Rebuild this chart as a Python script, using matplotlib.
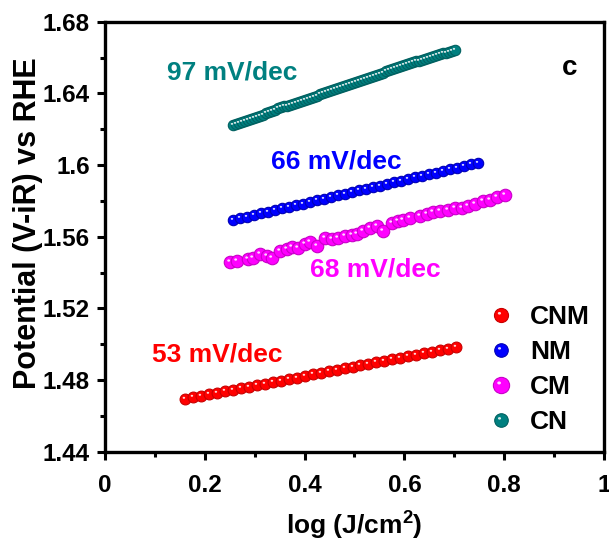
import numpy as np
import matplotlib
matplotlib.use("Agg")
import matplotlib.pyplot as plt
from matplotlib.path import Path
from matplotlib.markers import MarkerStyle
from matplotlib.legend_handler import HandlerTuple

plt.rcParams['font.family'] = ['Liberation Sans', 'DejaVu Sans']
plt.rcParams['font.weight'] = 'bold'
plt.rcParams['mathtext.fontset'] = 'custom'
plt.rcParams['mathtext.bf'] = 'Liberation Sans:bold'
plt.rcParams['mathtext.rm'] = 'Liberation Sans:bold'
plt.rcParams['mathtext.default'] = 'bf'

# data
labels = ['CNM', 'NM', 'CM', 'CN']
colors = ['#ff0000', '#0000ff', '#ff00ff', '#008080']
edge_colors = ['#c80000', '#0000b4', '#c800c8', '#006060']

cnm_x = [0.160, 0.176, 0.192, 0.208, 0.224, 0.240, 0.256, 0.272, 0.288, 0.304,
         0.320, 0.336, 0.352, 0.368, 0.384, 0.400, 0.416, 0.432, 0.448, 0.464,
         0.480, 0.496, 0.512, 0.528, 0.544, 0.560, 0.576, 0.592, 0.608, 0.624,
         0.640, 0.656, 0.672, 0.688, 0.704]
cnm_y = [1.4695, 1.4703, 1.4712, 1.4720, 1.4729, 1.4737, 1.4746, 1.4754, 1.4763, 1.4771,
         1.4780, 1.4788, 1.4797, 1.4805, 1.4814, 1.4822, 1.4831, 1.4839, 1.4848, 1.4856,
         1.4865, 1.4873, 1.4882, 1.4890, 1.4899, 1.4907, 1.4916, 1.4924, 1.4932, 1.4941,
         1.4949, 1.4958, 1.4966, 1.4975, 1.4983]

nm_x = [0.257, 0.271, 0.285, 0.299, 0.313, 0.327, 0.341, 0.355, 0.369, 0.383,
        0.397, 0.411, 0.425, 0.439, 0.453, 0.467, 0.481, 0.495, 0.509, 0.523,
        0.537, 0.551, 0.565, 0.579, 0.593, 0.607, 0.621, 0.635, 0.649, 0.663,
        0.677, 0.691, 0.705, 0.719, 0.733, 0.747]
nm_y = [1.5694, 1.5703, 1.5712, 1.5721, 1.5730, 1.5739, 1.5749, 1.5758, 1.5767, 1.5776,
        1.5785, 1.5794, 1.5803, 1.5812, 1.5821, 1.5830, 1.5840, 1.5849, 1.5858, 1.5867,
        1.5876, 1.5885, 1.5894, 1.5903, 1.5912, 1.5921, 1.5931, 1.5940, 1.5949, 1.5958,
        1.5967, 1.5976, 1.5985, 1.5994, 1.6003, 1.6012]

cm_x = [0.2505, 0.2639, 0.2873, 0.2973, 0.3106, 0.3240, 0.3340, 0.3507, 0.3641, 0.3741,
        0.3874, 0.4008, 0.4108, 0.4242, 0.4409, 0.4543, 0.4676, 0.4810, 0.4943, 0.5043,
        0.5177, 0.5311, 0.5444, 0.5578, 0.5745, 0.5878, 0.5978, 0.6112, 0.6313, 0.6446,
        0.6580, 0.6713, 0.6880, 0.7014, 0.7148, 0.7281, 0.7415, 0.7582, 0.7715, 0.7849,
        0.8016]
cm_y = [1.5458, 1.5465, 1.5476, 1.5483, 1.5502, 1.5495, 1.5483, 1.5521, 1.5532, 1.5543,
        1.5536, 1.5562, 1.5569, 1.5550, 1.5592, 1.5588, 1.5595, 1.5606, 1.5610, 1.5617,
        1.5632, 1.5647, 1.5659, 1.5632, 1.5677, 1.5688, 1.5695, 1.5707, 1.5714, 1.5725,
        1.5740, 1.5744, 1.5748, 1.5759, 1.5762, 1.5770, 1.5781, 1.5800, 1.5807, 1.5822,
        1.5833]

cn_x = [0.257, 0.263, 0.269, 0.275, 0.281, 0.287, 0.293, 0.299, 0.305, 0.311,
        0.317, 0.323, 0.329, 0.335, 0.341, 0.347, 0.353, 0.359, 0.365, 0.371,
        0.377, 0.383, 0.389, 0.395, 0.401, 0.407, 0.413, 0.419, 0.425, 0.431,
        0.437, 0.443, 0.449, 0.455, 0.461, 0.467, 0.473, 0.479, 0.485, 0.491,
        0.497, 0.503, 0.509, 0.515, 0.521, 0.527, 0.533, 0.539, 0.545, 0.551,
        0.557, 0.563, 0.569, 0.575, 0.581, 0.587, 0.593, 0.599, 0.605, 0.611,
        0.617, 0.623, 0.629, 0.635, 0.641, 0.647, 0.653, 0.659, 0.665, 0.671,
        0.677, 0.683, 0.689, 0.695, 0.701]
cn_y = [1.6224, 1.6229, 1.6235, 1.6241, 1.6246, 1.6253, 1.6258, 1.6263, 1.6268, 1.6274,
        1.6281, 1.6288, 1.6295, 1.6302, 1.6309, 1.6316, 1.6322, 1.6327, 1.6332, 1.6337,
        1.6342, 1.6347, 1.6352, 1.6358, 1.6364, 1.6370, 1.6376, 1.6382, 1.6388, 1.6395,
        1.6401, 1.6407, 1.6413, 1.6419, 1.6425, 1.6431, 1.6437, 1.6442, 1.6447, 1.6452,
        1.6457, 1.6462, 1.6467, 1.6473, 1.6479, 1.6485, 1.6491, 1.6497, 1.6503, 1.6509,
        1.6516, 1.6523, 1.6530, 1.6537, 1.6543, 1.6548, 1.6553, 1.6558, 1.6563, 1.6568,
        1.6573, 1.6578, 1.6583, 1.6588, 1.6593, 1.6598, 1.6603, 1.6608, 1.6613, 1.6618,
        1.6623, 1.6628, 1.6633, 1.6638, 1.6643]

slopes = ['53 mV/dec', '66 mV/dec', '68 mV/dec', '97 mV/dec']
slope_pos = [(0.094, 1.4940), (0.333, 1.6017), (0.411, 1.5415), (0.124, 1.6514)]

x_ticks = [0, 0.2, 0.4, 0.6, 0.8, 1]
x_ticklabels = ['0', '0.2', '0.4', '0.6', '0.8', '1']
y_ticks = [1.44, 1.48, 1.52, 1.56, 1.60, 1.64, 1.68]
y_ticklabels = ['1.44', '1.48', '1.52', '1.56', '1.6', '1.64', '1.68']

series = [(cnm_x, cnm_y), (nm_x, nm_y), (cm_x, cm_y), (cn_x, cn_y)]
sizes = [7.8, 7.5, 9.0, 7.5]

# small highlight spot, off-centre, for a shaded-ball look
t = np.linspace(0, 2 * np.pi, 20)
verts = [(1, 1), (-1, -1)] + list(zip(-0.28 + 0.22 * np.cos(t), 0.30 + 0.18 * np.sin(t)))
codes = [Path.MOVETO, Path.MOVETO, Path.MOVETO] + [Path.LINETO] * (len(t) - 1)
spot = MarkerStyle(Path(verts, codes))

fig = plt.figure(figsize=(6.09, 5.45), dpi=100)
ax = fig.add_axes([0.1724, 0.1712, 0.8194, 0.789])

handles = []
for (xs, ys), c, ec, ms, lab in zip(series, colors, edge_colors, sizes, labels):
    ball, = ax.plot(xs, ys, 'o', ms=ms, mfc=c, mec=ec, mew=0.8, ls='none')
    hl, = ax.plot(xs, ys, ls='none', marker=spot, ms=ms * 1.05,
                  mfc='white', mec='none', alpha=0.85)
    handles.append((ball, hl))

for txt, (tx, ty), c in zip(slopes, slope_pos, colors):
    ax.text(tx, ty, txt, color=c, fontsize=19, fontweight='bold', va='center', ha='left')

ax.text(0.932, 1.6542, 'c', fontsize=20, fontweight='bold', ha='center', va='center')

ax.legend(handles, labels, handler_map={tuple: HandlerTuple(ndivide=1)},
          loc='lower right', bbox_to_anchor=(1.02, -0.015), frameon=False,
          prop={'weight': 'bold', 'size': 19}, handletextpad=0.6,
          labelspacing=0.42, handlelength=1.0, markerscale=1.3)

ax.set_xlim(0, 1)
ax.set_ylim(1.44, 1.68)
ax.set_xticks(x_ticks)
ax.set_xticklabels(x_ticklabels)
ax.set_yticks(y_ticks)
ax.set_yticklabels(y_ticklabels)
ax.set_xticks([0.1, 0.3, 0.5, 0.7, 0.9], minor=True)
ax.set_yticks([1.46, 1.50, 1.54, 1.58, 1.62, 1.66], minor=True)
ax.tick_params(which='major', direction='out', length=6, width=2.2, labelsize=17.5, pad=5)
ax.tick_params(axis='x', which='major', pad=10)
ax.tick_params(which='minor', direction='out', length=3.5, width=2.2)
for s in ax.spines.values():
    s.set_linewidth(2.4)

ax.set_xlabel('log (J/cm$^2$)', fontsize=19, fontweight='bold', labelpad=9)
ax.set_ylabel('Potential (V-iR) vs RHE', fontsize=22, fontweight='bold')
ax.yaxis.set_label_coords(-0.124, 0.532)

fig.savefig('out.png', dpi=100)
